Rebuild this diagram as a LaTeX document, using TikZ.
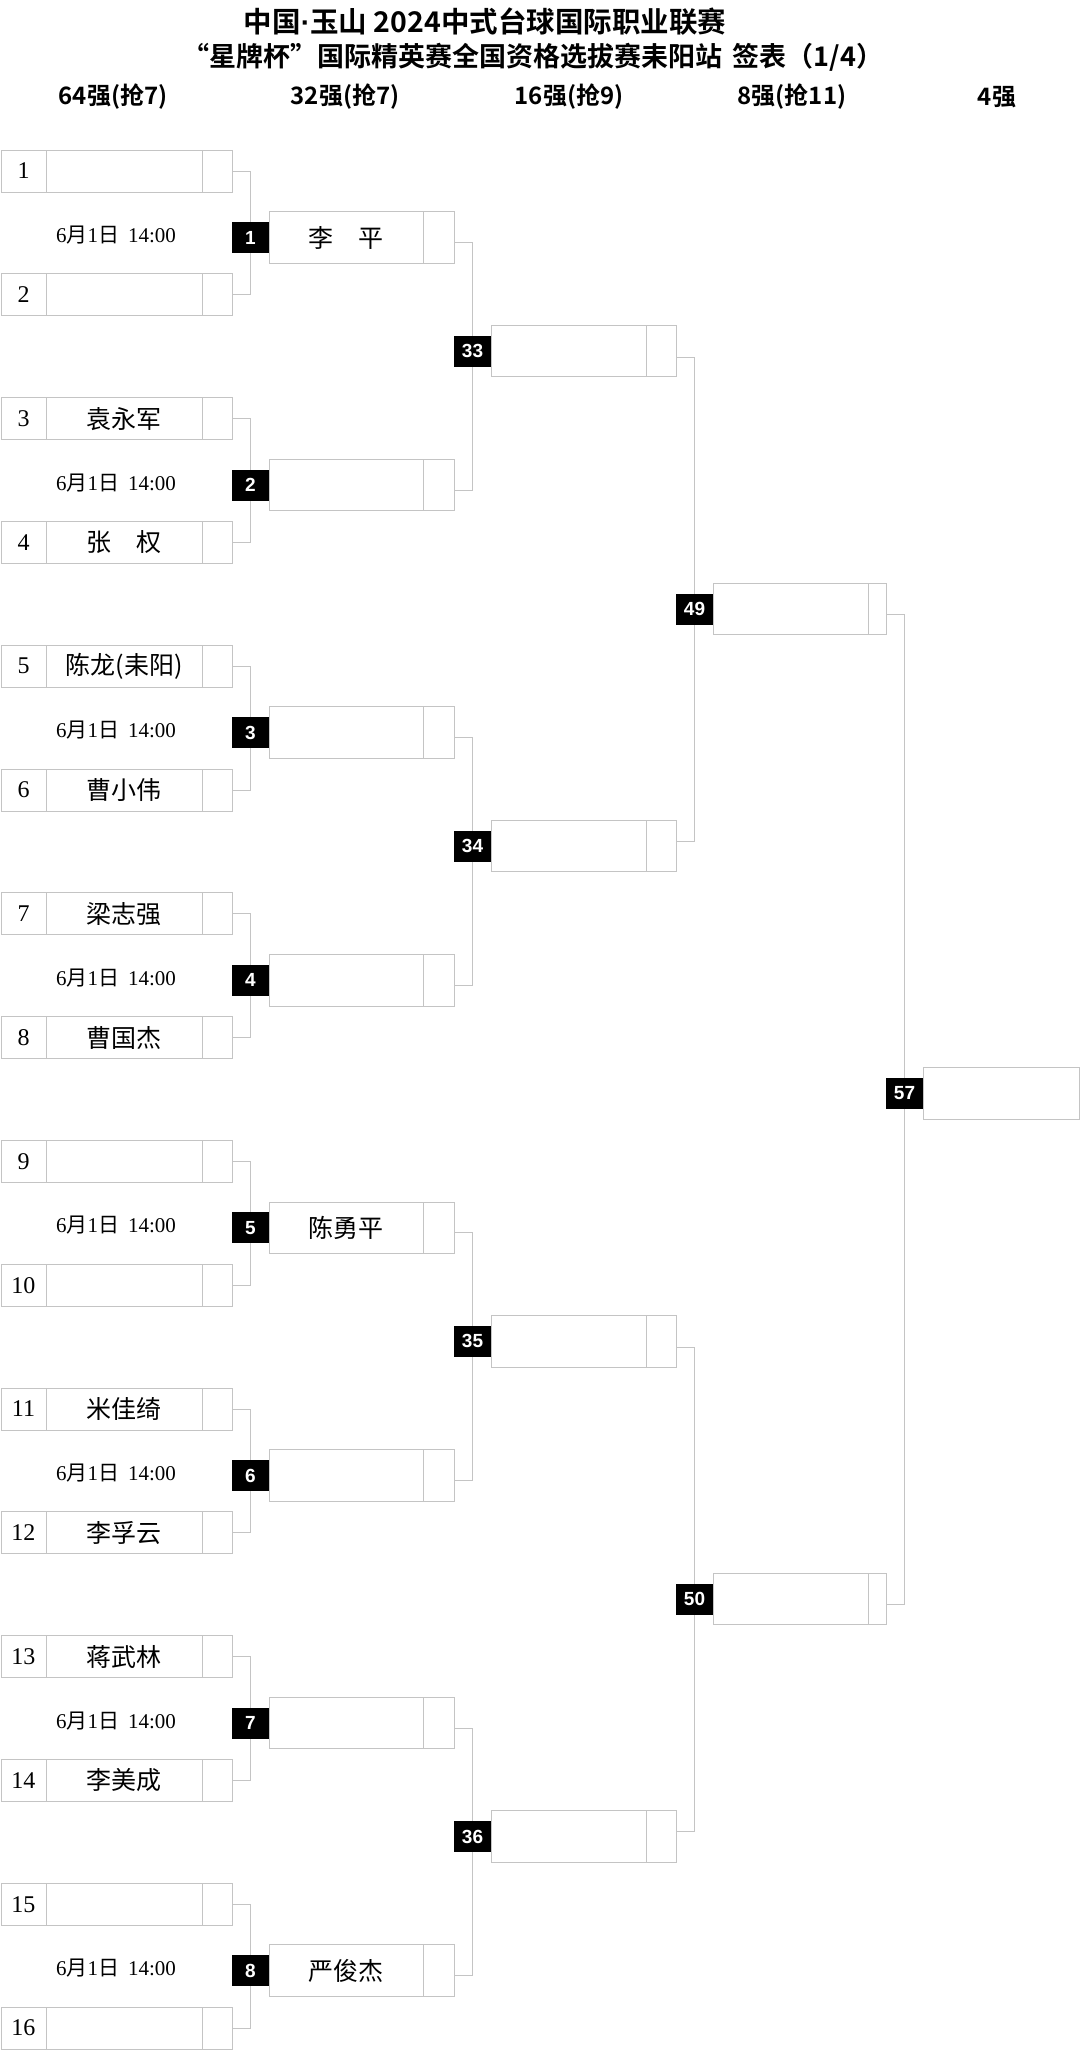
\documentclass[tikz,border=0pt]{standalone}
\usepackage{fontspec}
\setmainfont{Liberation Serif}
\newfontfamily\cjk[BoldFont={Noto Sans CJK SC Bold}]{Noto Sans CJK SC}
\newfontfamily\arb{Liberation Sans}
\definecolor{lc}{HTML}{C4C4C4}
\newcommand\fnm{\cjk\fontsize{25}{25}\selectfont}
\newcommand\fno{\fontsize{24}{24}\selectfont}
\newcommand\fdt{\fontsize{21}{21}\selectfont}
\newcommand\fmb{\arb\bfseries\fontsize{19}{19}\selectfont}
\newcommand\fhd{\cjk\bfseries\fontsize{24}{24}\selectfont}
\newcommand\fti{\cjk\bfseries\fontsize{27}{27}\selectfont}
\newcommand\ftia{\cjk\bfseries\fontsize{28.5}{28.5}\selectfont}
\newcommand\mydate{6{\cjk 月}1{\cjk 日}\hspace{9pt}14:00}
\begin{document}
\begin{tikzpicture}[x=1pt,y=-1pt,
  ln/.style={draw=lc,line width=1pt},
  pbox/.style={ln,rectangle,inner sep=0pt,outer sep=0pt,anchor=west,minimum height=51.5pt},
  fbox/.style={pbox,minimum width=231pt,minimum height=42pt},
  mbox/.style={fill=black,text=white,inner sep=0pt,outer sep=0pt,minimum width=37pt,minimum height=31pt,font=\fmb},
  nm/.style={inner sep=0pt,font=\fnm},
  no/.style={inner sep=0pt,font=\fno},
  dt/.style={inner sep=0pt,font=\fdt},
  hd/.style={inner sep=0pt,font=\fhd},
  ti/.style={inner sep=0pt,font=\fti}]
\useasboundingbox (0,0) rectangle (1080,2050);
\fill[white] (0,0) rectangle (1080,2050);

% titles
\node[ti,font=\ftia] (t1) at (485,22) {中国{\arb\bfseries ·}玉山 2024中式台球国际职业联赛};
\node[ti] (t2) at (533,57) {“星牌杯”国际精英赛全国资格选拔赛耒阳站\hspace{10pt}签表（1/4）};
\node[hd] (h64) at (113,97) {64强(抢7)};
\node[hd] (h32) at (345,97) {32强(抢7)};
\node[hd] (h16) at (569,97) {16强(抢9)};
\node[hd] (h8) at (792,97) {8强(抢11)};
\node[hd] (h4) at (997,97) {4强};

% round 1 boxes
\foreach \i/\nmx in {1/{},2/{},3/袁永军,4/张　权,5/陈龙(耒阳),6/曹小伟,7/梁志强,8/曹国杰,9/{},10/{},11/米佳绮,12/李孚云,13/蒋武林,14/李美成,15/{},16/{}} {
  \pgfmathsetmacro\yy{171+(\i-1)*123.8}
  \node[fbox] (a\i) at (1,\yy) {};
  \draw[ln] (46,\yy-21) -- (46,\yy+21);
  \draw[ln] (202,\yy-21) -- (202,\yy+21);
  \node[no] (an\i) at (23.5,\yy) {\i};
  \node[nm] (aw\i) at (124,\yy) {\nmx};
}

% round 2 boxes
\foreach \k/\nmx in {1/李　平,2/{},3/{},4/{},5/陈勇平,6/{},7/{},8/严俊杰} {
  \pgfmathsetmacro\yy{237.5+(\k-1)*247.6}
  \node[pbox,minimum width=185pt] (b\k) at (269,\yy) {};
  \draw[ln] (423,\yy-25.75) -- (423,\yy+25.75);
  \node[nm] (bw\k) at (346,\yy) {\nmx};
  \node[mbox] (g\k) at (250.5,\yy) {\k};
  \node[dt] (dt\k) at (116,\yy-2.5) {\mydate};
}

% round 3 boxes
\foreach \m/\lab in {1/33,2/34,3/35,4/36} {
  \pgfmathsetmacro\yy{351+(\m-1)*495.2}
  \node[pbox,minimum width=185pt] (c\m) at (491,\yy) {};
  \draw[ln] (646,\yy-25.75) -- (646,\yy+25.75);
  \node[mbox] (q\m) at (472.5,\yy) {\lab};
}

% round 4 boxes
\foreach \n/\yy/\lab in {1/609/49,2/1599/50} {
  \node[pbox,minimum width=173pt] (d\n) at (713,\yy) {};
  \draw[ln] (868.5,\yy-25.75) -- (868.5,\yy+25.75);
  \node[mbox] (r\n) at (694.5,\yy) {\lab};
}

% final box
\node[pbox,minimum width=156pt] (e1) at (923,1093.5) {};
\node[mbox] (s1) at (904.5,1093.5) {57};

% connectors round 1 -> 2
\foreach \k in {1,...,8} {
  \pgfmathtruncatemacro\u{2*\k-1}
  \pgfmathtruncatemacro\v{2*\k}
  \draw[ln] (a\u.east) -| (g\k.north);
  \draw[ln] (a\v.east) -| (g\k.south);
}
% round 2 -> 3
\foreach \m in {1,...,4} {
  \pgfmathtruncatemacro\u{2*\m-1}
  \pgfmathtruncatemacro\v{2*\m}
  \draw[ln] ([yshift=-5pt]b\u.east) -| (q\m.north);
  \draw[ln] ([yshift=-5pt]b\v.east) -| (q\m.south);
}
% round 3 -> 4
\draw[ln] ([yshift=-6pt]c1.east) -| (r1.north);
\draw[ln] ([yshift=5pt]c2.east) -| (r1.south);
\draw[ln] ([yshift=-6pt]c3.east) -| (r2.north);
\draw[ln] ([yshift=5pt]c4.east) -| (r2.south);
% round 4 -> 5
\draw[ln] ([yshift=-5pt]d1.east) -| (s1.north);
\draw[ln] ([yshift=-5pt]d2.east) -| (s1.south);
\end{tikzpicture}
\end{document}
